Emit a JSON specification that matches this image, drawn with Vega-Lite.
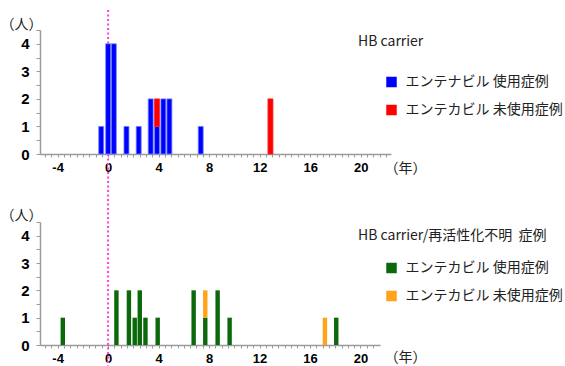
{
  "$schema": "https://vega.github.io/schema/vega-lite/v6.json",
  "background": "white",
  "padding": {"left": 0, "top": 8, "right": 0, "bottom": 0},
  "bounds": "flush",
  "spacing": 68,
  "config": {
    "view": {"stroke": null},
    "axis": {
      "grid": false,
      "domainColor": "#9a9a9a",
      "domainWidth": 1.5,
      "tickColor": "#9a9a9a",
      "tickWidth": 1,
      "labelFont": "Liberation Sans",
      "labelFontWeight": "bold",
      "labelColor": "#000000",
      "labelFlush": false,
      "titleFont": "Noto Sans CJK JP",
      "titleFontWeight": "normal",
      "titleFontSize": 14,
      "titleColor": "#222222"
    },
    "legend": {
      "orient": "none",
      "padding": 0,
      "symbolType": "square",
      "symbolSize": 110,
      "symbolStrokeWidth": 0,
      "symbolOffset": 26.5,
      "labelFont": "Noto Sans CJK JP",
      "labelFontSize": 14,
      "labelColor": "#222222",
      "labelLimit": 300,
      "rowPadding": 14,
      "labelOffset": 7,
      "titleFont": "Noto Sans CJK JP",
      "titleFontSize": 14,
      "titleFontWeight": "normal",
      "titleColor": "#222222",
      "titleLimit": 300,
      "titleAnchor": "start"
    }
  },
  "resolve": {
    "scale": {"color": "independent", "stroke": "independent", "x": "independent", "y": "independent"},
    "legend": {"color": "independent"}
  },
  "vconcat": [
    {
      "width": 351,
      "height": 124,
      "resolve": {"axis": {"x": "independent", "y": "independent"}},
      "layer": [
        {
          "data": {"values": [{"year": 0, "y1": 5.226, "y2": -1.306}]},
          "mark": {"type": "rule", "color": "#ff3fd6", "strokeWidth": 2, "strokeDash": [2, 2.5], "clip": false},
          "encoding": {
            "x": {
              "field": "year", "type": "quantitative",
              "scale": {"domain": [-5, 22], "nice": false, "zero": false},
              "axis": {"orient": "bottom", "title": null, "labels": false, "tickSize": 3, "values": [-5,-4.5,-4,-3.5,-3,-2.5,-2,-1.5,-1,-0.5,0,0.5,1,1.5,2,2.5,3,3.5,4,4.5,5,5.5,6,6.5,7,7.5,8,8.5,9,9.5,10,10.5,11,11.5,12,12.5,13,13.5,14,14.5,15,15.5,16,16.5,17,17.5,18,18.5,19,19.5,20,20.5,21,21.5,22]}
            },
            "y": {
              "field": "y1", "type": "quantitative",
              "scale": {"domain": [0, 4.5], "nice": false},
              "axis": {"orient": "left", "title": null, "labels": false, "tickSize": 4, "values": [0,0.5,1,1.5,2,2.5,3,3.5,4,4.5]}
            },
            "y2": {"field": "y2"}
          }
        },
        {
          "data": {"values": [
            {"year": -0.55, "count": 1, "group": "エンテナビル 使用症例"},
            {"year": 0, "count": 4, "group": "エンテナビル 使用症例"},
            {"year": 0.45, "count": 4, "group": "エンテナビル 使用症例"},
            {"year": 1.45, "count": 1, "group": "エンテナビル 使用症例"},
            {"year": 2.42, "count": 1, "group": "エンテナビル 使用症例"},
            {"year": 3.37, "count": 2, "group": "エンテナビル 使用症例"},
            {"year": 3.87, "count": 1, "group": "エンテナビル 使用症例"},
            {"year": 3.87, "count": 1, "group": "エンテカビル 未使用症例"},
            {"year": 4.37, "count": 2, "group": "エンテナビル 使用症例"},
            {"year": 4.85, "count": 2, "group": "エンテナビル 使用症例"},
            {"year": 7.33, "count": 1, "group": "エンテナビル 使用症例"},
            {"year": 12.85, "count": 2, "group": "エンテカビル 未使用症例"}
          ]},
          "mark": {"type": "bar", "size": 5, "strokeWidth": 0.8},
          "encoding": {
            "x": {
              "field": "year", "type": "quantitative",
              "scale": {"domain": [-5, 22], "nice": false, "zero": false},
              "axis": {
                "orient": "bottom",
                "title": "（年）",
                "values": [-4, 0, 4, 8, 12, 16, 20],
                "labelExpr": "'' + datum.value",
                "ticks": false,
                "domain": false,
                "labelPadding": 7,
                "labelFontSize": 13,
                "titleX": 365, "titleY": 14, "titleAlign": "center", "titleBaseline": "middle", "titleAngle": 0
              }
            },
            "y": {
              "field": "count", "type": "quantitative", "stack": "zero",
              "scale": {"domain": [0, 4.5], "nice": false},
              "axis": {
                "orient": "left",
                "title": "（人）",
                "values": [0, 1, 2, 3, 4],
                "ticks": false,
                "domain": false,
                "labelPadding": 11,
                "labelFontSize": 15,
                "titleX": -19, "titleY": -6, "titleAlign": "center", "titleBaseline": "middle", "titleAngle": 0
              }
            },
            "color": {
              "field": "group", "type": "nominal",
              "scale": {"domain": ["エンテナビル 使用症例", "エンテカビル 未使用症例"], "range": ["#0000ff", "#ff0000"]},
              "legend": {"title": "HB carrier", "orient": "none", "legendX": 318, "legendY": 5, "titlePadding": 26}
            },
            "stroke": {
              "field": "group", "type": "nominal",
              "scale": {"domain": ["エンテナビル 使用症例", "エンテカビル 未使用症例"], "range": ["#7088ff", "#ff2020"]},
              "legend": null
            },
            "order": {"field": "group", "sort": "descending"}
          }
        }
      ]
    },
    {
      "width": 340,
      "height": 123,
      "resolve": {"axis": {"x": "independent", "y": "independent"}},
      "layer": [
        {
          "data": {"values": [{"year": 0, "y1": 5.67, "y2": -1}]},
          "mark": {"type": "rule", "color": "#ff3fd6", "strokeWidth": 2, "strokeDash": [2, 2.5], "clip": false},
          "encoding": {
            "x": {
              "field": "year", "type": "quantitative",
              "scale": {"domain": [-5, 21.15], "nice": false, "zero": false},
              "axis": {"orient": "bottom", "title": null, "labels": false, "tickSize": 3, "values": [-5,-4.5,-4,-3.5,-3,-2.5,-2,-1.5,-1,-0.5,0,0.5,1,1.5,2,2.5,3,3.5,4,4.5,5,5.5,6,6.5,7,7.5,8,8.5,9,9.5,10,10.5,11,11.5,12,12.5,13,13.5,14,14.5,15,15.5,16,16.5,17,17.5,18,18.5,19,19.5,20,20.5,21]}
            },
            "y": {
              "field": "y1", "type": "quantitative",
              "scale": {"domain": [0, 4.5], "nice": false},
              "axis": {"orient": "left", "title": null, "labels": false, "tickSize": 4, "values": [0,0.5,1,1.5,2,2.5,3,3.5,4,4.5]}
            },
            "y2": {"field": "y2"}
          }
        },
        {
          "data": {"values": [
            {"year": -3.59, "count": 1, "group": "エンテカビル 使用症例"},
            {"year": 0.66, "count": 2, "group": "エンテカビル 使用症例"},
            {"year": 1.65, "count": 2, "group": "エンテカビル 使用症例"},
            {"year": 2.11, "count": 1, "group": "エンテカビル 使用症例"},
            {"year": 2.51, "count": 2, "group": "エンテカビル 使用症例"},
            {"year": 2.96, "count": 1, "group": "エンテカビル 使用症例"},
            {"year": 3.93, "count": 1, "group": "エンテカビル 使用症例"},
            {"year": 6.78, "count": 2, "group": "エンテカビル 使用症例"},
            {"year": 7.7, "count": 1, "group": "エンテカビル 使用症例"},
            {"year": 7.7, "count": 1, "group": "エンテカビル 未使用症例"},
            {"year": 8.68, "count": 2, "group": "エンテカビル 使用症例"},
            {"year": 9.63, "count": 1, "group": "エンテカビル 使用症例"},
            {"year": 17.18, "count": 1, "group": "エンテカビル 未使用症例"},
            {"year": 18.08, "count": 1, "group": "エンテカビル 使用症例"}
          ]},
          "mark": {"type": "bar", "size": 4.4},
          "encoding": {
            "x": {
              "field": "year", "type": "quantitative",
              "scale": {"domain": [-5, 21.15], "nice": false, "zero": false},
              "axis": {
                "orient": "bottom",
                "title": "（年）",
                "values": [-4, 0, 4, 8, 12, 16, 20],
                "labelExpr": "'' + datum.value",
                "ticks": false,
                "domain": false,
                "labelPadding": 7,
                "labelFontSize": 13,
                "titleX": 365, "titleY": 12, "titleAlign": "center", "titleBaseline": "middle", "titleAngle": 0
              }
            },
            "y": {
              "field": "count", "type": "quantitative", "stack": "zero",
              "scale": {"domain": [0, 4.5], "nice": false},
              "axis": {
                "orient": "left",
                "title": "（人）",
                "values": [0, 1, 2, 3, 4],
                "ticks": false,
                "domain": false,
                "labelPadding": 11,
                "labelFontSize": 15,
                "titleX": -19, "titleY": -7, "titleAlign": "center", "titleBaseline": "middle", "titleAngle": 0
              }
            },
            "color": {
              "field": "group", "type": "nominal",
              "scale": {"domain": ["エンテカビル 使用症例", "エンテカビル 未使用症例"], "range": ["#0b680b", "#ffa31a"]},
              "legend": {"title": "HB carrier/再活性化不明\u00a0\u00a0症例", "orient": "none", "legendX": 318, "legendY": 7, "titlePadding": 18}
            },
            "order": {"field": "group", "sort": "ascending"}
          }
        }
      ]
    }
  ]
}
